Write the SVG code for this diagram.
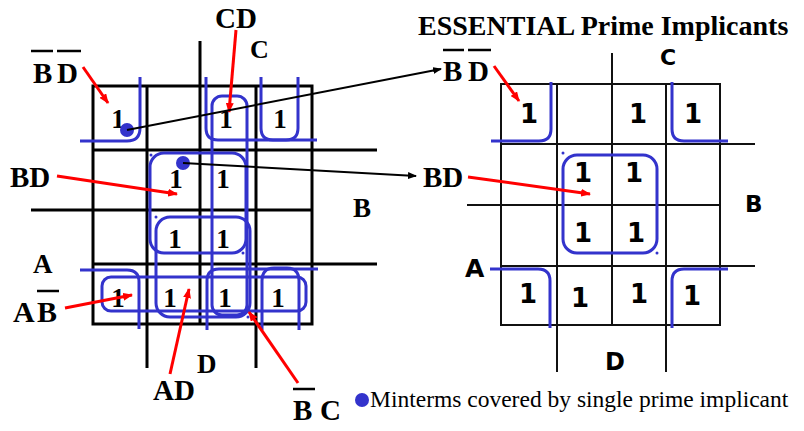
<svg xmlns="http://www.w3.org/2000/svg" width="804" height="431" viewBox="0 0 804 431">
<defs>
<marker id="ar" markerWidth="10" markerHeight="8" refX="9" refY="4" orient="auto" markerUnits="userSpaceOnUse"><path d="M0,0 L10,4 L0,8 z" fill="#ff0000"/></marker>
<marker id="ab" markerWidth="9" markerHeight="7" refX="8" refY="3.5" orient="auto" markerUnits="userSpaceOnUse"><path d="M0,0 L9,3.5 L0,7 z" fill="#000"/></marker>
</defs>
<style>
.g1{stroke:#000;stroke-width:3;fill:none}
.g2{stroke:#111;stroke-width:2;fill:none}
.bl{stroke:#3333cc;stroke-width:3;fill:none}
.red{stroke:#ff0000;stroke-width:3;fill:none;marker-end:url(#ar)}
.blk{stroke:#000;stroke-width:2;fill:none;marker-end:url(#ab)}
.ser{font-family:"Liberation Serif","Times New Roman",serif;font-weight:bold;fill:#000}
.leg{font-family:"Liberation Serif","Times New Roman",serif;font-weight:normal;font-size:23.5px;fill:#000}
.one{font-family:"Liberation Serif","Times New Roman",serif;font-weight:bold;font-size:27px;text-anchor:middle;fill:#000}
.sans1{font-family:"DejaVu Sans",Verdana,sans-serif;font-weight:bold;font-size:26px;text-anchor:middle;fill:#000}
.sans{font-family:"DejaVu Sans",Verdana,sans-serif;font-weight:bold;fill:#000}
.ob{stroke:#000;stroke-width:2.5}
.dot{fill:#3333cc}
</style>

<g id="left-map">
<rect class="g1" x="93" y="86" width="219" height="238"/>
<line class="g1" x1="93" y1="150" x2="377" y2="150"/>
<line class="g1" x1="31" y1="210" x2="312" y2="210"/>
<line class="g1" x1="93" y1="264" x2="377" y2="264"/>
<line class="g1" x1="200" y1="41" x2="200" y2="324"/>
<line class="g1" x1="147" y1="86" x2="147" y2="368"/>
<line class="g1" x1="256" y1="86" x2="256" y2="368"/>
<text class="one" x="118" y="128">1</text>
<text class="one" x="226" y="128">1</text>
<text class="one" x="280" y="128">1</text>
<text class="one" x="176" y="188">1</text>
<text class="one" x="223" y="188">1</text>
<text class="one" x="175" y="248">1</text>
<text class="one" x="223" y="248">1</text>
<text class="one" x="118" y="307">1</text>
<text class="one" x="170" y="307">1</text>
<text class="one" x="225" y="307">1</text>
<text class="one" x="278" y="307">1</text>
</g>

<g id="left-groups">
<path class="bl" d="M140,77 V128 Q140,141 127,141 H80"/>
<path class="bl" d="M206,77 V128 Q206,140 218,140 H317"/>
<path class="bl" d="M261,77 V128 Q261,140 273,140 H286 Q298,140 298,128 V77"/>
<rect class="bl" x="212" y="96" width="35" height="219" rx="10"/>
<rect class="bl" x="150" y="153" width="96" height="100" rx="14"/>
<rect class="bl" x="156" y="217" width="94" height="100" rx="14"/>
<rect class="bl" x="102" y="277" width="204" height="34" rx="9"/>
<path class="bl" d="M80,270 H127 Q139,270 139,282 V329"/>
<path class="bl" d="M318,269 H219 Q207,269 207,281 V330"/>
<path class="bl" d="M262,330 V281 Q262,268 274,268 H287 Q299,268 299,281 V330"/>
<circle class="dot" cx="151" cy="155" r="1.5"/>
<circle class="dot" cx="156" cy="217" r="1.5"/>
<circle class="dot" cx="243" cy="253" r="1.5"/>
<circle class="dot" cx="248" cy="317" r="1.5"/>
<circle class="dot" cx="127" cy="130" r="7"/>
<circle class="dot" cx="183" cy="163" r="7"/>
</g>

<g id="left-labels">
<text class="ser" x="33" y="83" font-size="29">B</text>
<text class="ser" x="57" y="83" font-size="29">D</text>
<line class="ob" x1="31" y1="51" x2="53" y2="51"/>
<line class="ob" x1="57" y1="51" x2="81" y2="51"/>
<text class="ser" x="215" y="28" font-size="29">CD</text>
<text class="ser" x="250" y="58" font-size="26">C</text>
<text class="ser" x="10" y="187" font-size="29">BD</text>
<text class="ser" x="353" y="217" font-size="27">B</text>
<text class="ser" x="33" y="273" font-size="27">A</text>
<text class="ser" x="13" y="322" font-size="30">A</text>
<text class="ser" x="37" y="322" font-size="30">B</text>
<line class="ob" x1="37" y1="291" x2="59" y2="291"/>
<text class="ser" x="197" y="373" font-size="27">D</text>
<text class="ser" x="153" y="400" font-size="29">AD</text>
<text class="ser" x="293" y="420" font-size="29">B</text>
<text class="ser" x="320" y="420" font-size="29">C</text>
<line class="ob" x1="293" y1="389" x2="315" y2="389"/>
</g>

<g id="title">
<text class="ser" x="418" y="35" font-size="28">ESSENTIAL Prime Implicants</text>
</g>

<g id="right-map">
<rect class="g2" x="501" y="84" width="219" height="241"/>
<line class="g2" x1="501" y1="144" x2="755" y2="144"/>
<line class="g2" x1="467" y1="205" x2="720" y2="205"/>
<line class="g2" x1="501" y1="266" x2="755" y2="266"/>
<line class="g2" x1="612" y1="53" x2="612" y2="325"/>
<line class="g2" x1="557" y1="84" x2="557" y2="372"/>
<line class="g2" x1="666" y1="84" x2="666" y2="372"/>
<text class="sans1" x="529" y="123">1</text>
<text class="sans1" x="638" y="123">1</text>
<text class="sans1" x="693" y="123">1</text>
<text class="sans1" x="583" y="182">1</text>
<text class="sans1" x="634" y="182">1</text>
<text class="sans1" x="583" y="242">1</text>
<text class="sans1" x="636" y="242">1</text>
<text class="sans1" x="528" y="303">1</text>
<text class="sans1" x="580" y="307">1</text>
<text class="sans1" x="639" y="303">1</text>
<text class="sans1" x="692" y="305">1</text>
</g>

<g id="right-groups">
<path class="bl" d="M551,82 V129 Q551,141 539,141 H491"/>
<path class="bl" d="M672,82 V129 Q672,141 684,141 H728"/>
<rect class="bl" x="563" y="155" width="94" height="98" rx="14"/>
<path class="bl" d="M490,269 H538 Q550,269 550,281 V328"/>
<path class="bl" d="M672,328 V281 Q672,269 684,269 H728"/>
<circle class="dot" cx="563" cy="153" r="1.5"/>
<circle class="dot" cx="657" cy="253" r="1.5"/>
</g>

<g id="right-labels">
<text class="ser" x="443" y="81" font-size="29">B</text>
<text class="ser" x="468" y="81" font-size="29">D</text>
<line class="ob" x1="443" y1="50" x2="464" y2="50"/>
<line class="ob" x1="468" y1="50" x2="491" y2="50"/>
<text class="ser" x="423" y="187" font-size="29">BD</text>
<text class="sans" x="660" y="65" font-size="22">C</text>
<text class="sans" x="745" y="212" font-size="23">B</text>
<text class="sans" x="465" y="277" font-size="25">A</text>
<text class="sans" x="605" y="370" font-size="24">D</text>
</g>

<g id="connectors">
<line class="red" x1="83" y1="67" x2="108" y2="103"/>
<line class="red" x1="236" y1="30" x2="229" y2="112"/>
<line class="red" x1="57" y1="176" x2="177" y2="194"/>
<line class="red" x1="65" y1="308" x2="132" y2="295"/>
<line class="red" x1="170" y1="374" x2="189" y2="289"/>
<line class="red" x1="298" y1="383" x2="249" y2="312"/>
<line class="red" x1="494" y1="66" x2="519" y2="101"/>
<line class="red" x1="468" y1="177" x2="590" y2="194"/>
<line class="blk" x1="127" y1="130" x2="441" y2="69"/>
<line class="blk" x1="183" y1="163" x2="416" y2="176"/>
</g>

<g id="legend">
<circle class="dot" cx="362" cy="400" r="7"/>
<text class="leg" x="370" y="407">Minterms covered by single prime implicant</text>
</g>
</svg>
